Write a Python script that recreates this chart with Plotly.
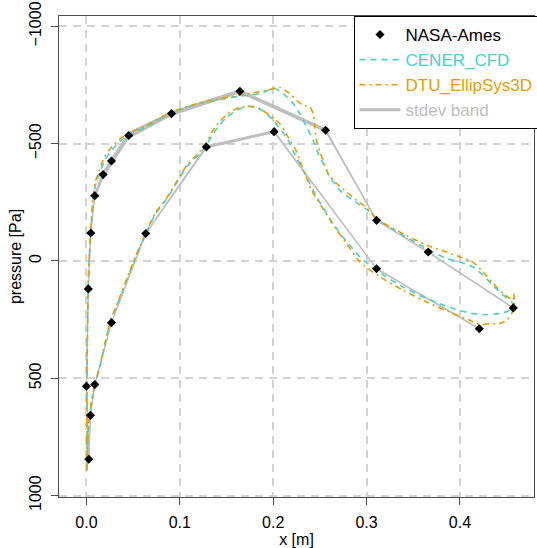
import plotly.graph_objects as go

# ---------------- data ----------------
# NASA-Ames experiment, upper (suction) surface, from leading edge to trailing edge
exp_up_x = [0.0025, 0.0000, 0.0020, 0.0046, 0.0089, 0.0178, 0.0268, 0.0453, 0.0911, 0.1643, 0.2561, 0.3107, 0.3660, 0.4571]
exp_up_p = [845, 534, 119, -119, -278, -368, -426, -535, -628, -723, -557, -173, -38, 200]
exp_up_sd = [3, 3, 3, 5, 10, 12, 12, 12, 8, 7, 6, 2, 2, 2]

# NASA-Ames experiment, lower surface, from leading edge towards trailing edge
exp_lo_x = [0.0025, 0.0043, 0.0089, 0.0268, 0.0635, 0.1284, 0.2010, 0.3107, 0.4207]
exp_lo_p = [845, 658, 527, 263, -117, -486, -551, 33, 289]
exp_lo_sd = [3, 3, 3, 3, 3, 5, 4, 2, 2]

# CENER_CFD: closed loop, stagnation -> upper surface -> TE -> lower surface -> stagnation
cener_x = [0.0006, 0.0005, 0.0009, 0.0017, 0.0028, 0.0046, 0.0071, 0.0100, 0.0143, 0.0196,
           0.0285, 0.0392, 0.0499, 0.0643, 0.0911, 0.1214, 0.1482, 0.1643, 0.1857, 0.2018,
           0.2107, 0.2214, 0.2285, 0.2357, 0.2428, 0.2482, 0.2518, 0.2607, 0.2714, 0.2857,
           0.3000, 0.3107, 0.3357, 0.3643, 0.3857, 0.4000, 0.4142, 0.4250, 0.4357, 0.4464,
           0.4554, 0.4571,
           0.4554, 0.4517, 0.4428, 0.4250, 0.4107, 0.3928, 0.3643, 0.3357, 0.3107, 0.2928,
           0.2821, 0.2732, 0.2642, 0.2553, 0.2464, 0.2393, 0.2321, 0.2253, 0.2200, 0.2143,
           0.2071, 0.2000, 0.1911, 0.1804, 0.1697, 0.1643, 0.1501, 0.1358, 0.1283, 0.1214,
           0.1072, 0.0858, 0.0742, 0.0636, 0.0550, 0.0464, 0.0389, 0.0321, 0.0255, 0.0196,
           0.0143, 0.0089, 0.0054, 0.0028, 0.0014, 0.0006]
cener_p = [892, 679, 381, 125, -3, -117, -259, -330, -374, -429,
           -479, -521, -545, -571, -631, -671, -692, -702, -713, -735,
           -713, -671, -628, -571, -514, -457, -429, -358, -301, -258,
           -220, -180, -117, -53, -10, 4, 26, 61, 106, 146,
           175, 189,
           201, 213, 224, 229, 222, 203, 160, 104, 40, -17,
           -67, -109, -159, -216, -273, -330, -386, -437, -480, -527,
           -564, -599, -634, -657, -657, -649, -613, -543, -493, -458,
           -400, -263, -203, -117, -37, 47, 125, 196, 261, 359,
           453, 530, 607, 679, 764, 892]

# DTU_EllipSys3D: closed loop, same ordering
dtu_x = [0.0006, 0.0003, 0.0009, 0.0017, 0.0028, 0.0044, 0.0068, 0.0094, 0.0137, 0.0191,
         0.0276, 0.0384, 0.0499, 0.0643, 0.0911, 0.1214, 0.1482, 0.1750, 0.1929, 0.2071,
         0.2178, 0.2250, 0.2321, 0.2393, 0.2428, 0.2446, 0.2464, 0.2500, 0.2536, 0.2589,
         0.2679, 0.2786, 0.2893, 0.3000, 0.3107, 0.3357, 0.3643, 0.3857, 0.4000, 0.4142,
         0.4250, 0.4357, 0.4464, 0.4536, 0.4573, 0.4578, 0.4582, 0.4578,
         0.4554, 0.4500, 0.4428, 0.4321, 0.4214, 0.4107, 0.3893, 0.3643, 0.3392, 0.3143,
         0.2928, 0.2750, 0.2679, 0.2589, 0.2500, 0.2411, 0.2339, 0.2285, 0.2243, 0.2178,
         0.2125, 0.2071, 0.1964, 0.1857, 0.1750, 0.1643, 0.1536, 0.1429, 0.1356, 0.1281,
         0.1214, 0.1072, 0.0858, 0.0742, 0.0636, 0.0550, 0.0464, 0.0389, 0.0319, 0.0255,
         0.0196, 0.0143, 0.0089, 0.0051, 0.0027, 0.0014, 0.0006]
dtu_p = [892, 679, 381, 125, -3, -122, -263, -335, -386, -442,
         -489, -529, -553, -578, -635, -674, -695, -714, -727, -739,
         -713, -685, -663, -656, -628, -571, -514, -464, -429, -372,
         -330, -294, -258, -227, -180, -123, -67, -38, -17, 6,
         48, 97, 139, 160, 168, 138, 168, 198,
         224, 253, 266, 268, 270, 253, 218, 175, 125, 68,
         4, -95, -131, -187, -244, -301, -372, -429, -472, -514,
         -553, -585, -619, -649, -659, -654, -635, -595, -557, -501,
         -467, -406, -267, -207, -122, -43, 42, 121, 191, 257,
         355, 449, 526, 602, 679, 764, 892]

x_ticks = [0.0, 0.1, 0.2, 0.3, 0.4]
y_ticks = [-1000, -500, 0, 500, 1000]

# ---------------- styles ----------------
FONT = "Liberation Sans, Arial, Helvetica, sans-serif"
C_CENER = "#48D1CC"
C_DTU = "#E69F00"
C_BAND = "#BEBEBE"

fig = go.Figure()


def band(xs, ps, sds):
    lo = [p - s for p, s in zip(ps, sds)]
    hi = [p + s for p, s in zip(ps, sds)]
    return xs + xs[::-1], lo + hi[::-1]


for xs, ps, sds in [(exp_up_x, exp_up_p, exp_up_sd), (exp_lo_x, exp_lo_p, exp_lo_sd)]:
    bx, by = band(xs, ps, sds)
    fig.add_trace(go.Scatter(x=bx, y=by, mode="lines", fill="toself",
                             fillcolor=C_BAND, line=dict(color=C_BAND, width=1),
                             showlegend=False, hoverinfo="skip"))

fig.add_trace(go.Scatter(x=cener_x, y=cener_p, mode="lines",
                         name=f'<span style="color:{C_CENER}">CENER_CFD</span>',
                         line=dict(color=C_CENER, width=1.6, dash="6px,5px", shape="spline", smoothing=0.6),
                         legendrank=2))
fig.add_trace(go.Scatter(x=dtu_x, y=dtu_p, mode="lines",
                         name=f'<span style="color:{C_DTU}">DTU_EllipSys3D</span>',
                         line=dict(color=C_DTU, width=1.6, dash="6px,4px,2px,4px", shape="spline", smoothing=0.6),
                         legendrank=3))

exp_x = exp_up_x + exp_lo_x[1:]
exp_p = exp_up_p + exp_lo_p[1:]
fig.add_trace(go.Scatter(x=exp_x, y=exp_p, mode="markers", name="NASA-Ames",
                         marker=dict(symbol="diamond", size=7, color="black", line=dict(width=0)),
                         legendrank=1))

# legend entry for the stdev band (drawn as a gray line in the legend)
fig.add_trace(go.Scatter(x=[None], y=[None], mode="lines",
                         name=f'<span style="color:{C_BAND}">stdev band</span>',
                         line=dict(color=C_BAND, width=3), legendrank=4))

axis_common = dict(
    showline=True, mirror=True, linecolor="#4d4d4d", linewidth=1,
    ticks="outside", ticklen=7, tickcolor="#4d4d4d", tickwidth=1,
    showgrid=True, gridcolor="#D3D3D3", gridwidth=1.5, griddash="8px,6px",
    zeroline=False, tickfont=dict(family=FONT, size=16, color="black"),
)

fig.update_layout(
    width=537, height=548,
    margin=dict(l=59, r=3, t=16, b=51, autoexpand=False),
    paper_bgcolor="white", plot_bgcolor="white",
    font=dict(family=FONT, size=16, color="black"),
    xaxis=dict(range=[-0.0294, 0.4793], tickvals=x_ticks, tickformat=".1f",
               title=dict(text="x [m]", standoff=4, font=dict(family=FONT, size=16)),
               ticklabelstandoff=4, **axis_common),
    yaxis=dict(range=[1006, -1044], tickvals=y_ticks, tickangle=-90,
               title=dict(text="pressure [Pa]", standoff=0, font=dict(family=FONT, size=16)),
               ticklabelstandoff=4, **axis_common),
    legend=dict(x=0.62, y=1, xanchor="left", yanchor="top",
                bgcolor="white", bordercolor="black", borderwidth=1,
                font=dict(family=FONT, size=17, color="black"),
                itemwidth=41, tracegroupgap=0),
    showlegend=True,
)

fig.write_html("out.html")
